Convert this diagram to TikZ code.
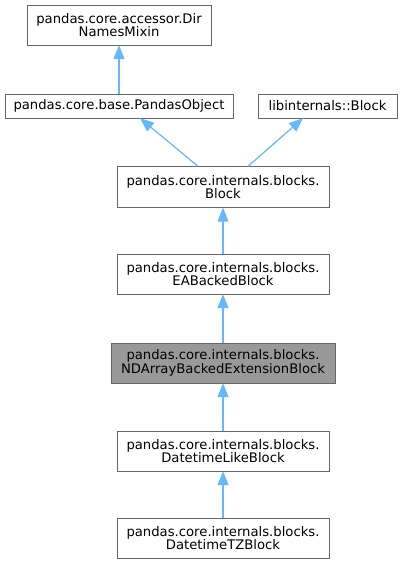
\documentclass[tikz,border=0pt]{standalone}
\usepackage{fontspec}
\setmainfont{DejaVu Sans}
\usetikzlibrary{arrows.meta,positioning}
\definecolor{edgeblue}{RGB}{99,184,255}
\definecolor{boxline}{RGB}{102,102,102}
\definecolor{boxgray}{RGB}{153,153,153}
\begin{document}
\begin{tikzpicture}[x=1pt,y=-1pt]
	\tikzstyle{block} = [draw=boxline,rectangle,fill=white,align=center,inner sep=0pt,minimum width=212pt,minimum height=41pt,font=\fontsize{13.2}{13.8}\selectfont]
	\tikzstyle{block1} = [block,minimum height=24pt]
	\tikzstyle{current} = [block,fill=boxgray]
	\tikzset{
		inherit/.style={draw=edgeblue,line width=1.2pt,-{Triangle[width=11pt,length=14pt]},fill=edgeblue}
	}
	\useasboundingbox (0,0) rectangle (402,564);
	
	\node[block,minimum width=184pt,minimum height=40pt] (T1) at (119,25) {pandas.core.accessor.Dir\\NamesMixin};
	\node[block1,minimum width=228pt] (T2) at (119,106) {pandas.core.base.PandasObject};
	\node[block1,minimum width=139pt] (T3) at (327.5,106) {libinternals::Block};
	\node[block] (T4) at (223,187) {pandas.core.internals.blocks.\\Block};
	\node[block,minimum height=40pt] (T5) at (223,274) {pandas.core.internals.blocks.\\EABackedBlock};
	\node[current,minimum width=224pt,minimum height=40pt] (T6) at (223,363) {pandas.core.internals.blocks.\\NDArrayBackedExtensionBlock};
	\node[block,minimum height=40pt] (T7) at (223,451) {pandas.core.internals.blocks.\\DatetimeLikeBlock};
	\node[block,minimum height=40pt] (T8) at (223,538) {pandas.core.internals.blocks.\\DatetimeTZBlock};
	
	\draw[inherit] (T2.north) -- (T1.south);
	\draw[inherit] ([xshift=-25pt]T4.north) -- ([xshift=21pt]T2.south);
	\draw[inherit] ([xshift=25pt]T4.north) -- ([xshift=-24.5pt]T3.south);
	\draw[inherit] (T5.north) -- (T4.south);
	\draw[inherit] (T6.north) -- (T5.south);
	\draw[inherit] (T7.north) -- (T6.south);
	\draw[inherit] (T8.north) -- (T7.south);
\end{tikzpicture}
\end{document}
